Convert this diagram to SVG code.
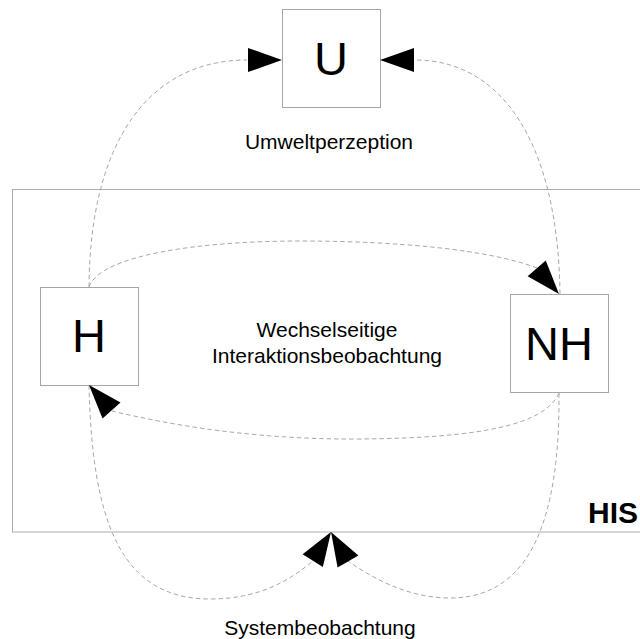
<svg xmlns="http://www.w3.org/2000/svg" xmlns:xlink="http://www.w3.org/1999/xlink" width="640" height="639" viewBox="0 0 640 639">
<style>
.box{fill:#fff;stroke:#a6a6a6;stroke-width:1}
.frame{fill:none;stroke:#ababab;stroke-width:1}
.con{fill:none;stroke:#a8a8a8;stroke-width:1;stroke-dasharray:4.5,3}
.big{font-family:"Liberation Sans",Arial,sans-serif;font-size:47px;fill:#000;text-anchor:middle}
.lbl{font-family:"Liberation Sans",Arial,sans-serif;font-size:21px;fill:#000;text-anchor:middle}
.his{font-family:"Liberation Sans",Arial,sans-serif;font-size:30px;font-weight:bold;fill:#000;text-anchor:end}
</style>
<defs>
<polygon id="ah" points="0,0 -34,-12 -34,12" fill="#000"/>
</defs>
<rect width="640" height="639" fill="#fff"/>
<g id="HIS">
<rect class="frame" x="12.5" y="189.5" width="700" height="342.5"/>
<text class="his" x="638" y="523">HIS</text>
</g>
<g id="U">
<rect class="box" x="282.5" y="9.5" width="98" height="98"/>
<text class="big" x="331" y="75">U</text>
</g>
<g id="H">
<rect class="box" x="40.5" y="287.5" width="98" height="98"/>
<text class="big" x="89" y="352">H</text>
</g>
<g id="NH">
<rect class="box" x="510.5" y="294.5" width="98" height="98"/>
<text class="big" x="559" y="360">NH</text>
</g>
<g id="connectors">
<path class="con" d="M89,287 C90,140 150,60 247,60"/>
<path class="con" d="M560,294 C558,140 500,60 415,60"/>
<path class="con" d="M89,287 C100,255 200,241 300,241 C400,241 490,250 537,268"/>
<path class="con" d="M559,393 C545,425 480,438 360,439 C240,440 150,420 112,411"/>
<path class="con" d="M89,385 C92,520 120,599 210,599 C260,599 290,580 313,561"/>
<path class="con" d="M559,393 C560,520 530,598 450,598 C410,598 375,580 348,561"/>
<use xlink:href="#ah" href="#ah" transform="translate(282,60)"/>
<use xlink:href="#ah" href="#ah" transform="translate(380,60) rotate(180)"/>
<use xlink:href="#ah" href="#ah" transform="translate(559,294) rotate(49)"/>
<use xlink:href="#ah" href="#ah" transform="translate(89,385) rotate(228.5)"/>
<use xlink:href="#ah" href="#ah" transform="translate(331,532) rotate(-57.5)"/>
<use xlink:href="#ah" href="#ah" transform="translate(331,532) rotate(-120)"/>
</g>
<g id="labels">
<text class="lbl" x="329" y="149">Umweltperzeption</text>
<text class="lbl" x="327" y="337">Wechselseitige</text>
<text class="lbl" x="327" y="363">Interaktionsbeobachtung</text>
<text class="lbl" x="320" y="635">Systembeobachtung</text>
</g>
</svg>
